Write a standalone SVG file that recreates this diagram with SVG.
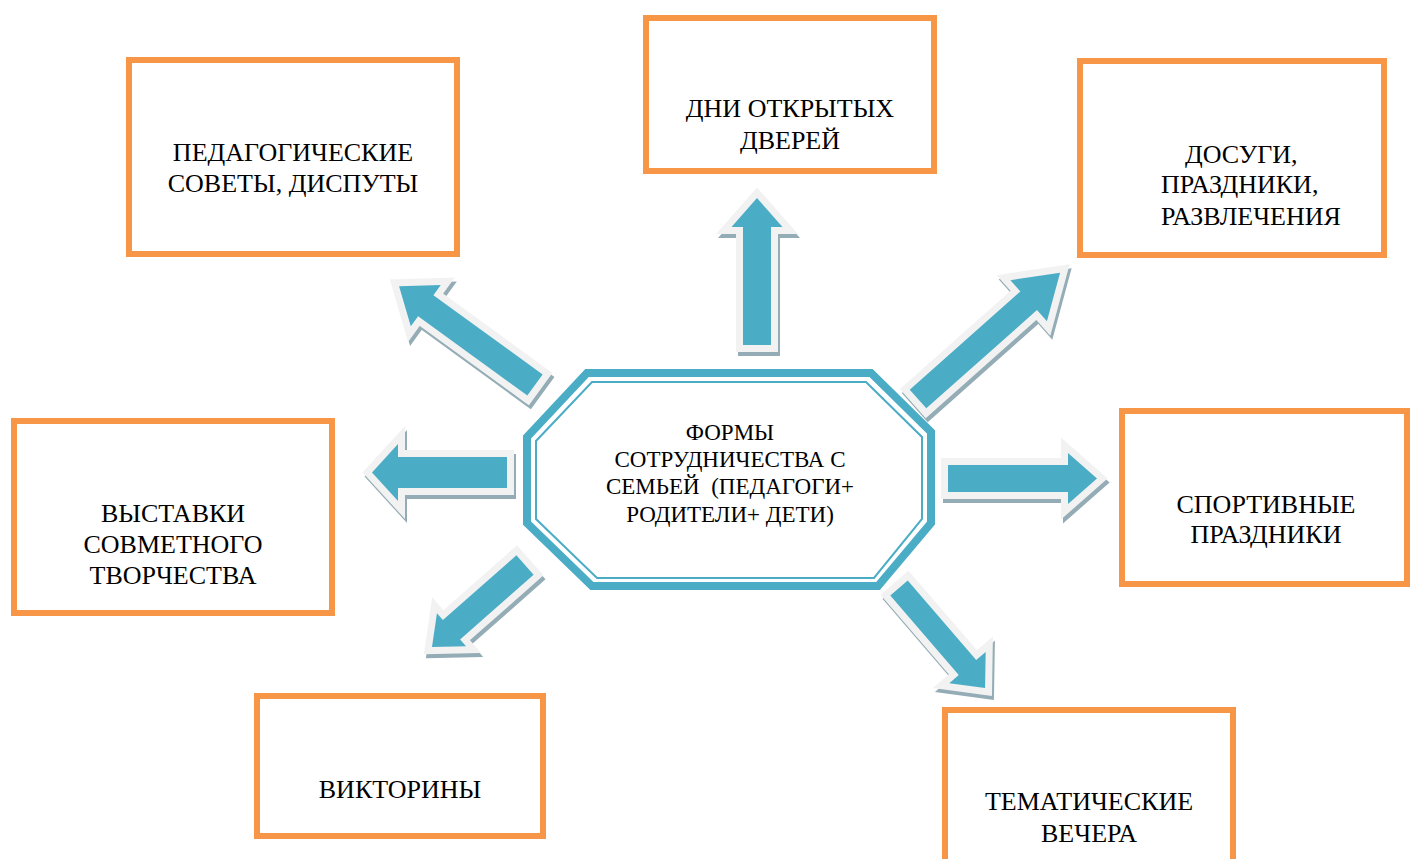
<svg xmlns="http://www.w3.org/2000/svg" xmlns:xlink="http://www.w3.org/1999/xlink" width="1410" height="859" viewBox="0 0 1410 859">
<style>
.box{fill:#fff;stroke:#F79646;stroke-width:6}
.t{font-family:"Liberation Serif","Times New Roman",serif;font-size:26px;fill:#000;text-anchor:middle}
.tc{font-family:"Liberation Serif","Times New Roman",serif;font-size:23px;fill:#000;text-anchor:middle;white-space:pre}
.sh{fill:#93ACB5;stroke:#93ACB5;stroke-width:14;stroke-linejoin:miter}
.ar{fill:#4BACC6;stroke:#F2F2F2;stroke-width:14;stroke-linejoin:miter;paint-order:stroke}
</style>
<defs>
<path id="a1" d="M0,-14 L118,-14 L118,-25.5 L147,0 L118,25.5 L118,14 L0,14 Z" transform="translate(757,345) rotate(-90)"/>
<path id="a2" d="M0,-13 L135,-13 L135,-25.5 L168,0 L135,25.5 L135,13 L0,13 Z" transform="translate(535,385) rotate(216)"/>
<path id="a3" d="M0,-12.5 L148,-12.5 L148,-27.5 L190,0 L148,27.5 L148,12.5 L0,12.5 Z" transform="translate(918,399) rotate(-41.6)"/>
<path id="a4" d="M0,-15.5 L109,-15.5 L109,-28.5 L135,0 L109,28.5 L109,15.5 L0,15.5 Z" transform="translate(507,472.5) rotate(180)"/>
<path id="a5" d="M0,-13.5 L120,-13.5 L120,-25.5 L149,0 L120,25.5 L120,13.5 L0,13.5 Z" transform="translate(948,478.5)"/>
<path id="a6" d="M0,-13 L98,-13 L98,-22 L124,0 L98,22 L98,13 L0,13 Z" transform="translate(525,565) rotate(138.6)"/>
<path id="a7" d="M0,-11.5 L105,-11.5 L105,-24 L132,0 L105,24 L105,11.5 L0,11.5 Z" transform="translate(899,588) rotate(49.3)"/>
</defs>

<g id="connectors">
<use xlink:href="#a1" class="sh" transform="translate(2,4)"/><use xlink:href="#a1" class="ar"/>
<use xlink:href="#a2" class="sh" transform="translate(2,4)"/><use xlink:href="#a2" class="ar"/>
<use xlink:href="#a3" class="sh" transform="translate(2,4)"/><use xlink:href="#a3" class="ar"/>
<use xlink:href="#a4" class="sh" transform="translate(2,4)"/><use xlink:href="#a4" class="ar"/>
<use xlink:href="#a5" class="sh" transform="translate(2,4)"/><use xlink:href="#a5" class="ar"/>
<use xlink:href="#a6" class="sh" transform="translate(2,4)"/><use xlink:href="#a6" class="ar"/>
<use xlink:href="#a7" class="sh" transform="translate(2,4)"/><use xlink:href="#a7" class="ar"/>
</g>

<g id="center">
<polygon points="587,373 871,373 931,432 931,523 878,586 592,586 527,523 527,437" fill="#fff" stroke="#4BACC6" stroke-width="8" stroke-linejoin="miter"/>
<polygon points="592,382 866,382 922,437 922,519 874,578 597,578 536,519 536,441" fill="none" stroke="#4BACC6" stroke-width="2"/>
<text class="tc" x="730" y="440">ФОРМЫ</text>
<text class="tc" x="730" y="467">СОТРУДНИЧЕСТВА С</text>
<text class="tc" x="730" y="494">СЕМЬЕЙ  (ПЕДАГОГИ+</text>
<text class="tc" x="730" y="522">РОДИТЕЛИ+ ДЕТИ)</text>
</g>

<g id="node-pedsovety">
<rect class="box" x="129" y="60" width="328" height="194"/>
<text class="t" x="293" y="161">ПЕДАГОГИЧЕСКИЕ</text>
<text class="t" x="293" y="192">СОВЕТЫ, ДИСПУТЫ</text>
</g>

<g id="node-dni">
<rect class="box" x="646" y="18" width="288" height="153"/>
<text class="t" x="790" y="117">ДНИ ОТКРЫТЫХ</text>
<text class="t" x="790" y="149">ДВЕРЕЙ</text>
</g>

<g id="node-dosugi">
<rect class="box" x="1080" y="61" width="304" height="194"/>
<text class="t" x="1185" y="163" style="text-anchor:start">ДОСУГИ,</text>
<text class="t" x="1161" y="193" style="text-anchor:start">ПРАЗДНИКИ,</text>
<text class="t" x="1161" y="225" style="text-anchor:start">РАЗВЛЕЧЕНИЯ</text>
</g>

<g id="node-vystavki">
<rect class="box" x="14" y="421" width="318" height="192"/>
<text class="t" x="173" y="522">ВЫСТАВКИ</text>
<text class="t" x="173" y="553">СОВМЕТНОГО</text>
<text class="t" x="173" y="584">ТВОРЧЕСТВА</text>
</g>

<g id="node-sport">
<rect class="box" x="1122" y="411" width="285" height="173"/>
<text class="t" x="1266" y="513">СПОРТИВНЫЕ</text>
<text class="t" x="1266" y="543">ПРАЗДНИКИ</text>
</g>

<g id="node-viktoriny">
<rect class="box" x="257" y="696" width="286" height="140"/>
<text class="t" x="400" y="798">ВИКТОРИНЫ</text>
</g>

<g id="node-tematicheskie">
<rect class="box" x="945" y="710" width="288" height="160"/>
<text class="t" x="1089" y="810">ТЕМАТИЧЕСКИЕ</text>
<text class="t" x="1089" y="842">ВЕЧЕРА</text>
</g>
</svg>
